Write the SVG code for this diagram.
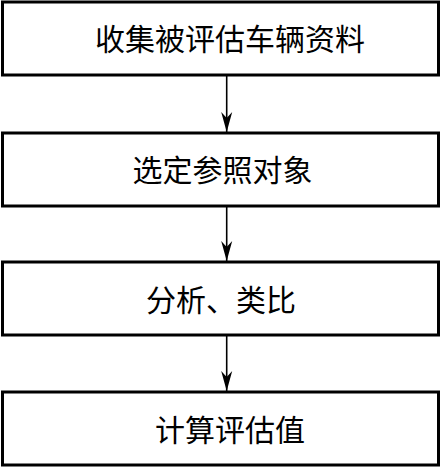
<svg xmlns="http://www.w3.org/2000/svg" width="441" height="468" viewBox="0 0 441 468">
<style>
.box{fill:#fff;stroke:#000;stroke-width:3}
.lbl{font-family:"Noto Sans CJK SC","Noto Sans CJK JP",sans-serif;font-size:30px;fill:#000;text-anchor:middle;dominant-baseline:central}
.conn{stroke:#000;stroke-width:1.6;fill:none}
</style>
<defs>
<marker id="ah" markerUnits="userSpaceOnUse" markerWidth="24" markerHeight="14" refX="22" refY="7" orient="auto" viewBox="0 0 24 14">
<path d="M22 7 L2 1.5 L8 7 L2 12.5 Z" fill="#000"/>
</marker>
</defs>
<rect width="441" height="468" fill="#fff"/>
<g id="n1"><rect class="box" x="2.5" y="2" width="436" height="73"/><text class="lbl" x="230" y="37">收集被评估车辆资料</text></g>
<g id="n2"><rect class="box" x="2.5" y="133" width="436" height="73"/><text class="lbl" x="222.5" y="168">选定参照对象</text></g>
<g id="n3"><rect class="box" x="2.5" y="262" width="436" height="73"/><text class="lbl" x="221" y="298">分析、类比</text></g>
<g id="n4"><rect class="box" x="2.5" y="392" width="436" height="73"/><text class="lbl" x="230" y="428">计算评估值</text></g>
<g id="connectors">
<line class="conn" x1="226.7" y1="76" x2="226.7" y2="132" marker-end="url(#ah)"/>
<line class="conn" x1="226.7" y1="207" x2="226.7" y2="261" marker-end="url(#ah)"/>
<line class="conn" x1="226.7" y1="336" x2="226.7" y2="391" marker-end="url(#ah)"/>
</g>
</svg>
